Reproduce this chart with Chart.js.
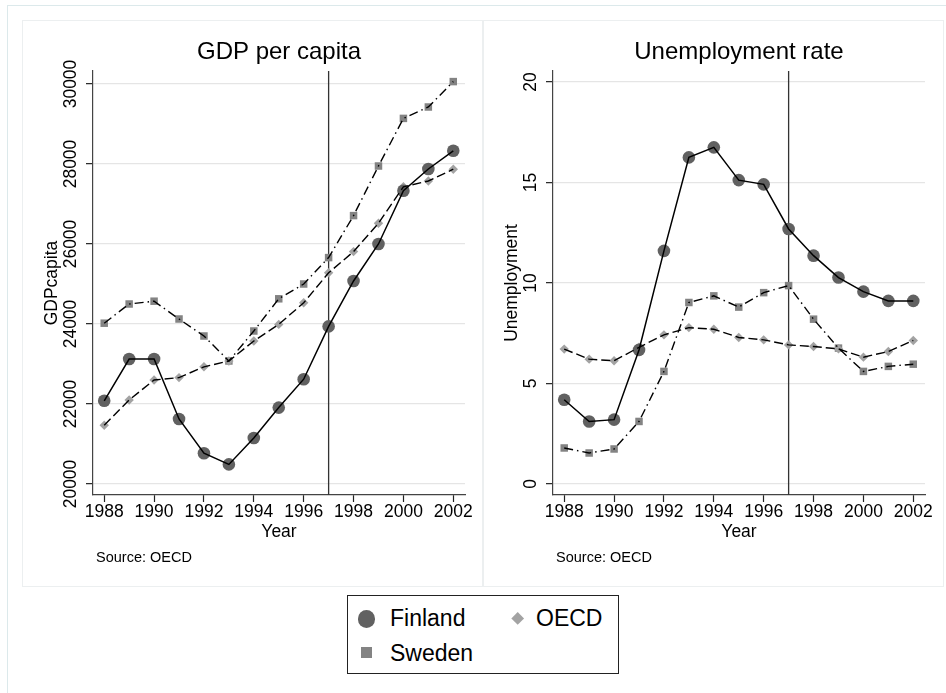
<!DOCTYPE html>
<html><head><meta charset="utf-8">
<script src="https://cdn.jsdelivr.net/npm/chart.js@4.4.0/dist/chart.umd.min.js"></script>
<style>
html,body{margin:0;padding:0;background:#fff;width:946px;height:693px;overflow:hidden;font-family:'Liberation Sans',Arial,sans-serif;}
#outer{position:absolute;left:7px;top:5px;width:960px;height:720px;border-left:1px solid #dce9eb;border-top:1px solid #dce9eb;}
.panel{position:absolute;top:20px;width:459px;height:565px;border:1px solid #eceff0;}
canvas{position:absolute;top:20px;}
#legend{position:absolute;left:347px;top:595px;width:270px;height:77px;border:1px solid #222;}
.lt{position:absolute;font-size:23px;line-height:23px;color:#000;white-space:nowrap;}
.mk{position:absolute;}
</style></head>
<body>
<div id="outer"></div>
<div class="panel" style="left:22px"></div>
<div class="panel" style="left:483px"></div>
<canvas id="gdp" width="460" height="566" style="left:22px"></canvas>
<canvas id="unemp" width="460" height="566" style="left:482px"></canvas>
<div id="legend"></div>
<script>
// ---- data ----
const years = [1988,1989,1990,1991,1992,1993,1994,1995,1996,1997,1998,1999,2000,2001,2002];
const xTicks = [1988,1990,1992,1994,1996,1998,2000,2002];
const gdpTicks = [20000,22000,24000,26000,28000,30000];
const unempTicks = [0,5,10,15,20];
const seriesNames = ['Finland','OECD','Sweden'];
const gdpFinland = [22080,23125,23125,21625,20770,20490,21150,21910,22620,23940,25075,26000,27330,27875,28330];
const gdpOECD    = [21470,22100,22600,22660,22930,23075,23575,23990,24530,25280,25810,26520,27430,27575,27870];
const gdpSweden  = [24020,24500,24570,24125,23700,23075,23825,24630,25000,25660,26710,27950,29140,29425,30060];
const unempFinland = [4.19,3.11,3.2,6.67,11.6,16.25,16.75,15.12,14.91,12.69,11.36,10.27,9.57,9.11,9.11];
const unempOECD    = [6.71,6.21,6.13,6.8,7.42,7.78,7.70,7.29,7.17,6.92,6.84,6.72,6.31,6.59,7.14];
const unempSweden  = [1.79,1.54,1.74,3.11,5.6,9.03,9.36,8.80,9.52,9.87,8.2,6.76,5.6,5.85,5.96];
const referenceYear = 1997;
const sourceNote = 'Source: OECD';

// ---- styling ----
const FONT = "'Liberation Sans', Arial, sans-serif";
Chart.defaults.font.family = FONT;
Chart.defaults.color = '#000';
const styles = [
  {marker:'circle',  radius:6.3, color:'#616161', dash:[],          width:1.5},
  {marker:'rectRot', radius:4.7, color:'#a3a3a3', dash:[9,4],       width:1.4},
  {marker:'rect',    radius:5.3, color:'#838383', dash:[9,4,1.5,4], width:1.4}
];

function makeDatasets(seriesList){
  const ds = [];
  seriesList.forEach((vals,i)=>{
    const st = styles[i];
    const pts = years.map((yr,j)=>({x:yr, y:vals[j]}));
    ds.push({label:seriesNames[i], data:pts, showLine:true, borderColor:'#000', borderWidth:st.width,
             borderDash:st.dash, pointRadius:0, fill:false, tension:0, order:0});
    ds.push({label:seriesNames[i]+' markers', data:pts, showLine:false, pointStyle:st.marker,
             pointRadius:st.radius, pointBackgroundColor:st.color, pointBorderColor:st.color,
             pointBorderWidth:0, order:1});
  });
  return ds;
}

function measure(font, texts){
  const c = document.createElement('canvas').getContext('2d');
  c.font = font;
  return Math.max(...texts.map(t=>c.measureText(t).width));
}

const refLine = {
  id:'refLine',
  beforeDatasetsDraw(chart){
    const {ctx, chartArea:a, scales:{x}} = chart;
    const px = x.getPixelForValue(referenceYear);
    ctx.save(); ctx.strokeStyle='#333'; ctx.lineWidth=1.3;
    ctx.beginPath(); ctx.moveTo(px,a.top); ctx.lineTo(px,a.bottom); ctx.stroke(); ctx.restore();
  }
};
const sourcePlugin = {
  id:'sourceNote',
  afterDraw(chart){
    const {ctx, chartArea:a, scales:{x}} = chart;
    ctx.save(); ctx.font = '14.5px ' + FONT; ctx.fillStyle='#000';
    ctx.textBaseline='alphabetic'; ctx.textAlign='left';
    ctx.fillText(sourceNote, a.left+3, x.bottom+15.7); ctx.restore();
  }
};

function makeChart(id, title, yTitle, seriesList, yMin, yMax, yTicks){
  const TL = 7;
  const widest = measure('17.5px ' + FONT, yTicks.map(String));
  const yPad = 22 - TL - widest/2;
  const tickFont = {size:17.5};
  return new Chart(document.getElementById(id), {
    type:'line',
    data:{datasets:makeDatasets(seriesList)},
    options:{
      responsive:false, animation:false, events:[],
      layout:{padding:{left:0,right:17,top:0,bottom:40}, autoPadding:false},
      plugins:{
        legend:{display:false}, tooltip:{enabled:false},
        title:{display:true, text:title, fullSize:false, color:'#000',
               font:{size:24, weight:'normal', lineHeight:'28px'}, padding:{top:18,bottom:5}}
      },
      scales:{
        x:{type:'linear', min:1987.55, max:2002.47, position:'bottom',
           afterBuildTicks:s=>{ s.ticks = xTicks.map(v=>({value:v})); },
           afterFit:s=>{ s.height = 51; },
           ticks:{autoSkip:false, maxRotation:0, minRotation:0, padding:0, font:tickFont, color:'#000', callback:v=>String(v)},
           grid:{drawOnChartArea:false, drawTicks:true, tickLength:TL, tickColor:'#222', tickWidth:1.2},
           border:{display:true, color:'#444', width:1.2},
           title:{display:true, text:'Year', font:{size:17.5}, color:'#000', padding:{top:0,bottom:3}}
        },
        y:{type:'linear', min:yMin, max:yMax, position:'left',
           afterBuildTicks:s=>{ s.ticks = yTicks.map(v=>({value:v})); },
           afterFit:s=>{ s.width = 71; },
           ticks:{autoSkip:false, minRotation:90, maxRotation:90, crossAlign:'center', padding:yPad,
                  font:tickFont, color:'#000', callback:v=>String(v)},
           grid:{color:'#e5e5e5', lineWidth:1.3, drawTicks:true, tickLength:TL, tickColor:'#222', tickWidth:1.2},
           border:{display:true, color:'#444', width:1.2},
           title:{display:true, text:yTitle, font:{size:17.5}, color:'#000', padding:{top:19.5,bottom:0}}
        }
      }
    },
    plugins:[refLine, sourcePlugin]
  });
}

makeChart('gdp', 'GDP per capita', 'GDPcapita', [gdpFinland,gdpOECD,gdpSweden], 19725, 30325, gdpTicks);
makeChart('unemp', 'Unemployment rate', 'Unemployment', [unempFinland,unempOECD,unempSweden], -0.55, 20.55, unempTicks);

// ---- legend (HTML) ----
const legendPos = [
  {mx:18.7, my:23, tx:42, ty:11},
  {mx:169.7, my:23, tx:188, ty:11},
  {mx:18.7, my:56.7, tx:42, ty:45.5}
];
const legend = document.getElementById('legend');
seriesNames.forEach((name,i)=>{
  const p = legendPos[i], st = styles[i];
  const m = document.createElement('div');
  m.className = 'mk';
  let sz;
  if (st.marker==='circle'){ sz=17.5; m.style.borderRadius='50%'; }
  else if (st.marker==='rectRot'){ sz=9.4; m.style.transform='rotate(45deg)'; }
  else { sz=11.3; }
  m.style.width=sz+'px'; m.style.height=sz+'px';
  m.style.left=(p.mx-sz/2)+'px'; m.style.top=(p.my-sz/2)+'px';
  m.style.background=st.color;
  legend.appendChild(m);
  const t = document.createElement('div');
  t.className='lt'; t.textContent=name;
  t.style.left=p.tx+'px'; t.style.top=p.ty+'px';
  legend.appendChild(t);
});
</script>
</body></html>
